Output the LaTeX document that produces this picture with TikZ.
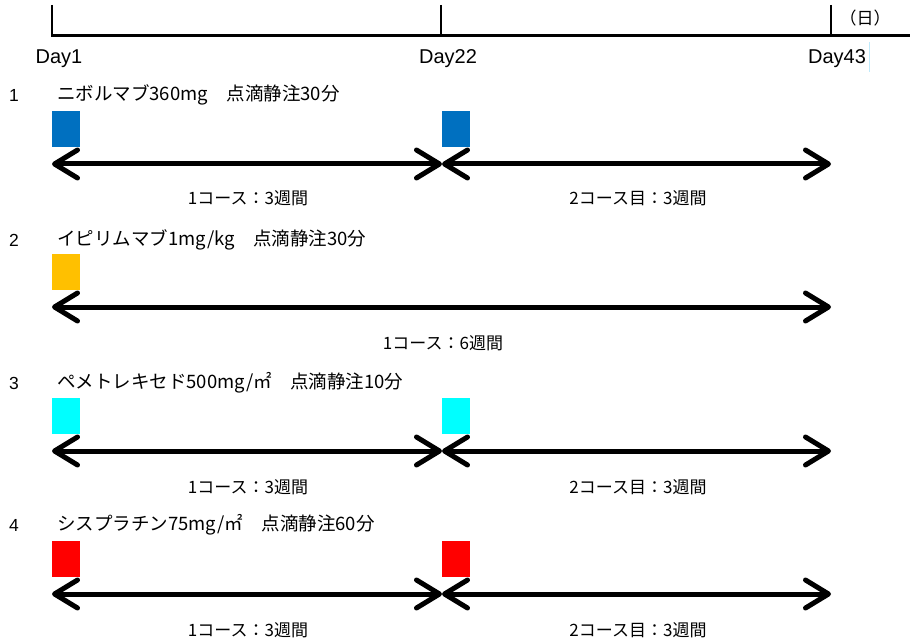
\documentclass[tikz,border=0pt]{standalone}
\usepackage{fontspec}
\setmainfont{Liberation Sans}
\newfontfamily\jp{Noto Sans CJK JP}
\usetikzlibrary{arrows.meta}
\definecolor{nivo}{HTML}{0070C0}
\definecolor{ipi}{HTML}{FFC000}
\definecolor{peme}{HTML}{00FFFF}
\definecolor{cis}{HTML}{FF0000}
\begin{document}
\begin{tikzpicture}[x=1pt,y=-1pt,
  jt/.style={font=\jp\fontsize{17}{20}\selectfont, inner sep=0pt},
  ht/.style={font=\jp\fontsize{18.5}{22}\selectfont, inner sep=0pt, anchor=west},
  lt/.style={font=\fontsize{20}{24}\selectfont, inner sep=0pt},
  nt/.style={font=\fontsize{17.5}{20}\selectfont, inner sep=0pt},
  dose/.style={minimum width=28pt, minimum height=36pt, inner sep=0pt, anchor=north west},
  span/.style={line width=5pt, {Straight Barb[length=23pt,width=28pt,round]}-{Straight Barb[length=23pt,width=28pt,round]}},
  tick/.style={line width=1.5pt},
]
\useasboundingbox (0,0) rectangle (910,644);
% timeline
\coordinate (t0) at (52,36);
\coordinate (tend) at (910,36);
\coordinate (k1) at (52,5);
\coordinate (k2) at (441,5);
\coordinate (k3) at (831,5);
\coordinate (k1b) at (52,37);
\coordinate (k2b) at (441,37);
\coordinate (k3b) at (831,37);
\draw[line width=3pt] (t0) -- (tend);
\draw[tick] (k1) -- (k1b);
\draw[tick] (k2) -- (k2b);
\draw[tick] (k3) -- (k3b);
\node[jt] (unit) at (865,18) {（日）};
\node[lt] (d1) at (59,59) {Day1};
\node[lt] (d22) at (448,59) {Day22};
\node[lt] (d43) at (837,59) {Day43};
\coordinate (cur1) at (869,42);
\coordinate (cur2) at (869,72);
\draw[line width=0.6pt, color=cyan!25] (cur1) -- (cur2);

% row 1
\node[nt] (n1) at (14,95) {1};
\node[ht] (h1) at (57,95) {ニボルマブ360mg\hspace{1em}点滴静注30分};
\node[dose, fill=nivo] (s1a) at (52,111) {};
\node[dose, fill=nivo] (s1b) at (442,111) {};
\coordinate (a1) at (52,164);
\coordinate (b1) at (442,164);
\coordinate (c1) at (831,164);
\draw[span] (a1) -- (b1);
\draw[span] (b1) -- (c1);
\node[jt] (l1a) at (248,198) {1コース：3週間};
\node[jt] (l1b) at (638,198) {2コース目：3週間};

% row 2
\node[nt] (n2) at (14,240) {2};
\node[ht] (h2) at (57,240) {イピリムマブ1mg/kg\hspace{1em}点滴静注30分};
\node[dose, fill=ipi] (s2a) at (52,254) {};
\coordinate (a2) at (52,307);
\coordinate (c2) at (831,307);
\draw[span] (a2) -- (c2);
\node[jt] (l2) at (443,343) {1コース：6週間};

% row 3
\node[nt] (n3) at (14,383) {3};
\node[ht] (h3) at (57,383) {ペメトレキセド500mg/㎡\hspace{1em}点滴静注10分};
\node[dose, fill=peme] (s3a) at (52,398) {};
\node[dose, fill=peme] (s3b) at (442,398) {};
\coordinate (a3) at (52,451);
\coordinate (b3) at (442,451);
\coordinate (c3) at (831,451);
\draw[span] (a3) -- (b3);
\draw[span] (b3) -- (c3);
\node[jt] (l3a) at (248,487) {1コース：3週間};
\node[jt] (l3b) at (638,487) {2コース目：3週間};

% row 4
\node[nt] (n4) at (14,525) {4};
\node[ht] (h4) at (57,525) {シスプラチン75mg/㎡\hspace{1em}点滴静注60分};
\node[dose, fill=cis] (s4a) at (52,541) {};
\node[dose, fill=cis] (s4b) at (442,541) {};
\coordinate (a4) at (52,594);
\coordinate (b4) at (442,594);
\coordinate (c4) at (831,594);
\draw[span] (a4) -- (b4);
\draw[span] (b4) -- (c4);
\node[jt] (l4a) at (248,630) {1コース：3週間};
\node[jt] (l4b) at (638,630) {2コース目：3週間};
\end{tikzpicture}
\end{document}
